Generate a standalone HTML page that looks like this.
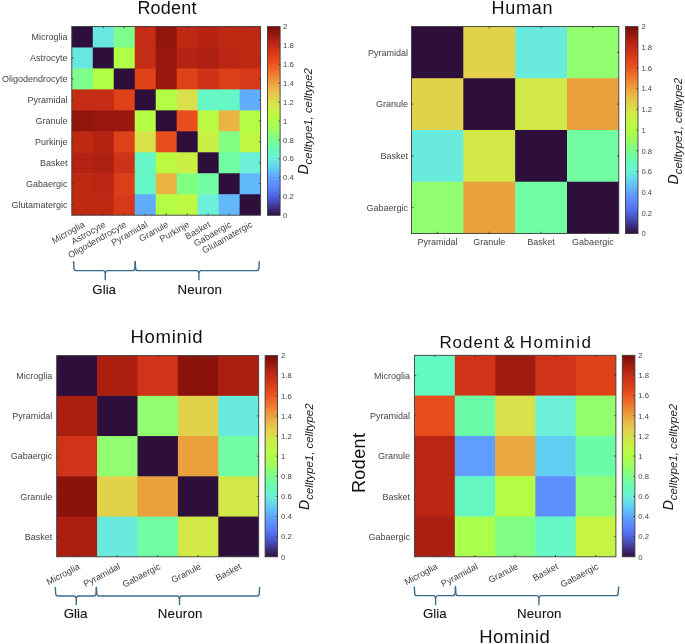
<!DOCTYPE html><html><head><meta charset="utf-8"><style>html,body{margin:0;padding:0;background:#fff;}svg{display:block;will-change:transform}</style></head><body><svg width="685" height="644" viewBox="0 0 685 644" font-family='"Liberation Sans", sans-serif'>
<rect width="685" height="644" fill="#ffffff"/>
<rect x="71.80" y="26.50" width="21.58" height="21.57" fill="#2e0f3b"/>
<rect x="92.78" y="26.50" width="21.58" height="21.57" fill="#68e6e1"/>
<rect x="113.76" y="26.50" width="21.58" height="21.57" fill="#7efe8c"/>
<rect x="134.73" y="26.50" width="21.58" height="21.57" fill="#c42c16"/>
<rect x="155.71" y="26.50" width="21.58" height="21.57" fill="#92150d"/>
<rect x="176.69" y="26.50" width="21.58" height="21.57" fill="#bf2914"/>
<rect x="197.67" y="26.50" width="21.58" height="21.57" fill="#b42312"/>
<rect x="218.64" y="26.50" width="21.58" height="21.57" fill="#bf2914"/>
<rect x="239.62" y="26.50" width="20.98" height="21.57" fill="#bf2914"/>
<rect x="71.80" y="47.47" width="21.58" height="21.57" fill="#68e6e1"/>
<rect x="92.78" y="47.47" width="21.58" height="21.57" fill="#2e0f3b"/>
<rect x="113.76" y="47.47" width="21.58" height="21.57" fill="#b0fe46"/>
<rect x="134.73" y="47.47" width="21.58" height="21.57" fill="#c42c16"/>
<rect x="155.71" y="47.47" width="21.58" height="21.57" fill="#99170e"/>
<rect x="176.69" y="47.47" width="21.58" height="21.57" fill="#b42312"/>
<rect x="197.67" y="47.47" width="21.58" height="21.57" fill="#ae2011"/>
<rect x="218.64" y="47.47" width="21.58" height="21.57" fill="#ba2613"/>
<rect x="239.62" y="47.47" width="20.98" height="21.57" fill="#bf2914"/>
<rect x="71.80" y="68.43" width="21.58" height="21.57" fill="#7efe8c"/>
<rect x="92.78" y="68.43" width="21.58" height="21.57" fill="#b0fe46"/>
<rect x="113.76" y="68.43" width="21.58" height="21.57" fill="#2e0f3b"/>
<rect x="134.73" y="68.43" width="21.58" height="21.57" fill="#df4119"/>
<rect x="155.71" y="68.43" width="21.58" height="21.57" fill="#99170e"/>
<rect x="176.69" y="68.43" width="21.58" height="21.57" fill="#df4119"/>
<rect x="197.67" y="68.43" width="21.58" height="21.57" fill="#ce3217"/>
<rect x="218.64" y="68.43" width="21.58" height="21.57" fill="#dc3e19"/>
<rect x="239.62" y="68.43" width="20.98" height="21.57" fill="#d73918"/>
<rect x="71.80" y="89.40" width="21.58" height="21.57" fill="#c42c16"/>
<rect x="92.78" y="89.40" width="21.58" height="21.57" fill="#c42c16"/>
<rect x="113.76" y="89.40" width="21.58" height="21.57" fill="#df4119"/>
<rect x="134.73" y="89.40" width="21.58" height="21.57" fill="#2e0f3b"/>
<rect x="155.71" y="89.40" width="21.58" height="21.57" fill="#b3fd44"/>
<rect x="176.69" y="89.40" width="21.58" height="21.57" fill="#d8e04a"/>
<rect x="197.67" y="89.40" width="21.58" height="21.57" fill="#65f7c5"/>
<rect x="218.64" y="89.40" width="21.58" height="21.57" fill="#65f7c5"/>
<rect x="239.62" y="89.40" width="20.98" height="21.57" fill="#60adfe"/>
<rect x="71.80" y="110.37" width="21.58" height="21.57" fill="#92150d"/>
<rect x="92.78" y="110.37" width="21.58" height="21.57" fill="#99170e"/>
<rect x="113.76" y="110.37" width="21.58" height="21.57" fill="#99170e"/>
<rect x="134.73" y="110.37" width="21.58" height="21.57" fill="#b3fd44"/>
<rect x="155.71" y="110.37" width="21.58" height="21.57" fill="#2e0f3b"/>
<rect x="176.69" y="110.37" width="21.58" height="21.57" fill="#e94f1d"/>
<rect x="197.67" y="110.37" width="21.58" height="21.57" fill="#bbfa42"/>
<rect x="218.64" y="110.37" width="21.58" height="21.57" fill="#eab444"/>
<rect x="239.62" y="110.37" width="20.98" height="21.57" fill="#b3fd44"/>
<rect x="71.80" y="131.33" width="21.58" height="21.57" fill="#bf2914"/>
<rect x="92.78" y="131.33" width="21.58" height="21.57" fill="#b42312"/>
<rect x="113.76" y="131.33" width="21.58" height="21.57" fill="#df4119"/>
<rect x="134.73" y="131.33" width="21.58" height="21.57" fill="#d8e04a"/>
<rect x="155.71" y="131.33" width="21.58" height="21.57" fill="#e94f1d"/>
<rect x="176.69" y="131.33" width="21.58" height="21.57" fill="#2e0f3b"/>
<rect x="197.67" y="131.33" width="21.58" height="21.57" fill="#caf043"/>
<rect x="218.64" y="131.33" width="21.58" height="21.57" fill="#81ff85"/>
<rect x="239.62" y="131.33" width="20.98" height="21.57" fill="#bef842"/>
<rect x="71.80" y="152.30" width="21.58" height="21.57" fill="#b42312"/>
<rect x="92.78" y="152.30" width="21.58" height="21.57" fill="#ae2011"/>
<rect x="113.76" y="152.30" width="21.58" height="21.57" fill="#ce3217"/>
<rect x="134.73" y="152.30" width="21.58" height="21.57" fill="#65f7c5"/>
<rect x="155.71" y="152.30" width="21.58" height="21.57" fill="#bbfa42"/>
<rect x="176.69" y="152.30" width="21.58" height="21.57" fill="#caf043"/>
<rect x="197.67" y="152.30" width="21.58" height="21.57" fill="#2e0f3b"/>
<rect x="218.64" y="152.30" width="21.58" height="21.57" fill="#71fda1"/>
<rect x="239.62" y="152.30" width="20.98" height="21.57" fill="#6cf0d8"/>
<rect x="71.80" y="173.27" width="21.58" height="21.57" fill="#bf2914"/>
<rect x="92.78" y="173.27" width="21.58" height="21.57" fill="#ba2613"/>
<rect x="113.76" y="173.27" width="21.58" height="21.57" fill="#dc3e19"/>
<rect x="134.73" y="173.27" width="21.58" height="21.57" fill="#65f7c5"/>
<rect x="155.71" y="173.27" width="21.58" height="21.57" fill="#eab444"/>
<rect x="176.69" y="173.27" width="21.58" height="21.57" fill="#81ff85"/>
<rect x="197.67" y="173.27" width="21.58" height="21.57" fill="#71fda1"/>
<rect x="218.64" y="173.27" width="21.58" height="21.57" fill="#2e0f3b"/>
<rect x="239.62" y="173.27" width="20.98" height="21.57" fill="#61b9fb"/>
<rect x="71.80" y="194.23" width="21.58" height="20.97" fill="#bf2914"/>
<rect x="92.78" y="194.23" width="21.58" height="20.97" fill="#bf2914"/>
<rect x="113.76" y="194.23" width="21.58" height="20.97" fill="#d73918"/>
<rect x="134.73" y="194.23" width="21.58" height="20.97" fill="#60adfe"/>
<rect x="155.71" y="194.23" width="21.58" height="20.97" fill="#b3fd44"/>
<rect x="176.69" y="194.23" width="21.58" height="20.97" fill="#bef842"/>
<rect x="197.67" y="194.23" width="21.58" height="20.97" fill="#6cf0d8"/>
<rect x="218.64" y="194.23" width="21.58" height="20.97" fill="#61b9fb"/>
<rect x="239.62" y="194.23" width="20.98" height="20.97" fill="#2e0f3b"/>
<rect x="71.80" y="26.50" width="188.80" height="188.70" fill="none" stroke="#3c3c3c" stroke-width="0.9"/>
<line x1="82.29" y1="26.50" x2="82.29" y2="28.30" stroke="#333" stroke-width="0.8"/>
<line x1="82.29" y1="215.20" x2="82.29" y2="213.40" stroke="#333" stroke-width="0.8"/>
<line x1="71.80" y1="36.98" x2="73.60" y2="36.98" stroke="#333" stroke-width="0.8"/>
<line x1="260.60" y1="36.98" x2="258.80" y2="36.98" stroke="#333" stroke-width="0.8"/>
<line x1="103.27" y1="26.50" x2="103.27" y2="28.30" stroke="#333" stroke-width="0.8"/>
<line x1="103.27" y1="215.20" x2="103.27" y2="213.40" stroke="#333" stroke-width="0.8"/>
<line x1="71.80" y1="57.95" x2="73.60" y2="57.95" stroke="#333" stroke-width="0.8"/>
<line x1="260.60" y1="57.95" x2="258.80" y2="57.95" stroke="#333" stroke-width="0.8"/>
<line x1="124.24" y1="26.50" x2="124.24" y2="28.30" stroke="#333" stroke-width="0.8"/>
<line x1="124.24" y1="215.20" x2="124.24" y2="213.40" stroke="#333" stroke-width="0.8"/>
<line x1="71.80" y1="78.92" x2="73.60" y2="78.92" stroke="#333" stroke-width="0.8"/>
<line x1="260.60" y1="78.92" x2="258.80" y2="78.92" stroke="#333" stroke-width="0.8"/>
<line x1="145.22" y1="26.50" x2="145.22" y2="28.30" stroke="#333" stroke-width="0.8"/>
<line x1="145.22" y1="215.20" x2="145.22" y2="213.40" stroke="#333" stroke-width="0.8"/>
<line x1="71.80" y1="99.88" x2="73.60" y2="99.88" stroke="#333" stroke-width="0.8"/>
<line x1="260.60" y1="99.88" x2="258.80" y2="99.88" stroke="#333" stroke-width="0.8"/>
<line x1="166.20" y1="26.50" x2="166.20" y2="28.30" stroke="#333" stroke-width="0.8"/>
<line x1="166.20" y1="215.20" x2="166.20" y2="213.40" stroke="#333" stroke-width="0.8"/>
<line x1="71.80" y1="120.85" x2="73.60" y2="120.85" stroke="#333" stroke-width="0.8"/>
<line x1="260.60" y1="120.85" x2="258.80" y2="120.85" stroke="#333" stroke-width="0.8"/>
<line x1="187.18" y1="26.50" x2="187.18" y2="28.30" stroke="#333" stroke-width="0.8"/>
<line x1="187.18" y1="215.20" x2="187.18" y2="213.40" stroke="#333" stroke-width="0.8"/>
<line x1="71.80" y1="141.82" x2="73.60" y2="141.82" stroke="#333" stroke-width="0.8"/>
<line x1="260.60" y1="141.82" x2="258.80" y2="141.82" stroke="#333" stroke-width="0.8"/>
<line x1="208.16" y1="26.50" x2="208.16" y2="28.30" stroke="#333" stroke-width="0.8"/>
<line x1="208.16" y1="215.20" x2="208.16" y2="213.40" stroke="#333" stroke-width="0.8"/>
<line x1="71.80" y1="162.78" x2="73.60" y2="162.78" stroke="#333" stroke-width="0.8"/>
<line x1="260.60" y1="162.78" x2="258.80" y2="162.78" stroke="#333" stroke-width="0.8"/>
<line x1="229.13" y1="26.50" x2="229.13" y2="28.30" stroke="#333" stroke-width="0.8"/>
<line x1="229.13" y1="215.20" x2="229.13" y2="213.40" stroke="#333" stroke-width="0.8"/>
<line x1="71.80" y1="183.75" x2="73.60" y2="183.75" stroke="#333" stroke-width="0.8"/>
<line x1="260.60" y1="183.75" x2="258.80" y2="183.75" stroke="#333" stroke-width="0.8"/>
<line x1="250.11" y1="26.50" x2="250.11" y2="28.30" stroke="#333" stroke-width="0.8"/>
<line x1="250.11" y1="215.20" x2="250.11" y2="213.40" stroke="#333" stroke-width="0.8"/>
<line x1="71.80" y1="204.72" x2="73.60" y2="204.72" stroke="#333" stroke-width="0.8"/>
<line x1="260.60" y1="204.72" x2="258.80" y2="204.72" stroke="#333" stroke-width="0.8"/>
<defs><linearGradient id="g" x1="0" y1="0" x2="0" y2="1"><stop offset="0.000" stop-color="#7a0a08"/><stop offset="0.025" stop-color="#8b130c"/><stop offset="0.050" stop-color="#9f1a0f"/><stop offset="0.075" stop-color="#b42312"/><stop offset="0.100" stop-color="#c42c16"/><stop offset="0.125" stop-color="#d03317"/><stop offset="0.150" stop-color="#dc3e19"/><stop offset="0.175" stop-color="#e4471b"/><stop offset="0.200" stop-color="#ec5620"/><stop offset="0.225" stop-color="#ee6726"/><stop offset="0.250" stop-color="#ef792d"/><stop offset="0.275" stop-color="#ee8f36"/><stop offset="0.300" stop-color="#eaa03c"/><stop offset="0.325" stop-color="#eab444"/><stop offset="0.350" stop-color="#e7c249"/><stop offset="0.375" stop-color="#e2d14b"/><stop offset="0.400" stop-color="#d8e04a"/><stop offset="0.425" stop-color="#d0ea46"/><stop offset="0.450" stop-color="#c5f442"/><stop offset="0.475" stop-color="#bbfa42"/><stop offset="0.500" stop-color="#b0fe46"/><stop offset="0.525" stop-color="#a6ff53"/><stop offset="0.550" stop-color="#9bff63"/><stop offset="0.575" stop-color="#8aff78"/><stop offset="0.600" stop-color="#7efe8c"/><stop offset="0.625" stop-color="#71fda1"/><stop offset="0.650" stop-color="#66fab6"/><stop offset="0.675" stop-color="#65f7c5"/><stop offset="0.700" stop-color="#6cf0d8"/><stop offset="0.725" stop-color="#65e0e5"/><stop offset="0.750" stop-color="#62cef1"/><stop offset="0.775" stop-color="#61b9fb"/><stop offset="0.800" stop-color="#5ea6fe"/><stop offset="0.825" stop-color="#5f94ff"/><stop offset="0.850" stop-color="#5b85fc"/><stop offset="0.875" stop-color="#5575f1"/><stop offset="0.900" stop-color="#4e62de"/><stop offset="0.925" stop-color="#484fbf"/><stop offset="0.950" stop-color="#403895"/><stop offset="0.975" stop-color="#38246a"/><stop offset="1.000" stop-color="#2e0f3b"/></linearGradient></defs>
<rect x="267.50" y="26.60" width="12.60" height="188.70" fill="url(#g)" stroke="#3c3c3c" stroke-width="0.9"/>
<text x="283.00" y="218.07" font-size="7.7" fill="#444444">0</text>
<line x1="280.10" y1="196.43" x2="278.50" y2="196.43" stroke="#333" stroke-width="0.8"/>
<text x="283.00" y="199.20" font-size="7.7" fill="#444444">0.2</text>
<line x1="280.10" y1="177.56" x2="278.50" y2="177.56" stroke="#333" stroke-width="0.8"/>
<text x="283.00" y="180.33" font-size="7.7" fill="#444444">0.4</text>
<line x1="280.10" y1="158.69" x2="278.50" y2="158.69" stroke="#333" stroke-width="0.8"/>
<text x="283.00" y="161.46" font-size="7.7" fill="#444444">0.6</text>
<line x1="280.10" y1="139.82" x2="278.50" y2="139.82" stroke="#333" stroke-width="0.8"/>
<text x="283.00" y="142.59" font-size="7.7" fill="#444444">0.8</text>
<line x1="280.10" y1="120.95" x2="278.50" y2="120.95" stroke="#333" stroke-width="0.8"/>
<text x="283.00" y="123.72" font-size="7.7" fill="#444444">1</text>
<line x1="280.10" y1="102.08" x2="278.50" y2="102.08" stroke="#333" stroke-width="0.8"/>
<text x="283.00" y="104.85" font-size="7.7" fill="#444444">1.2</text>
<line x1="280.10" y1="83.21" x2="278.50" y2="83.21" stroke="#333" stroke-width="0.8"/>
<text x="283.00" y="85.98" font-size="7.7" fill="#444444">1.4</text>
<line x1="280.10" y1="64.34" x2="278.50" y2="64.34" stroke="#333" stroke-width="0.8"/>
<text x="283.00" y="67.11" font-size="7.7" fill="#444444">1.6</text>
<line x1="280.10" y1="45.47" x2="278.50" y2="45.47" stroke="#333" stroke-width="0.8"/>
<text x="283.00" y="48.24" font-size="7.7" fill="#444444">1.8</text>
<text x="283.00" y="29.37" font-size="7.7" fill="#444444">2</text>
<text x="308.20" y="121.30" transform="rotate(-90 308.20 121.30)" text-anchor="middle" font-style="italic" fill="#1a1a1a"><tspan font-size="14">D</tspan><tspan font-size="11.4" dy="4">celltype1, celltype2</tspan></text>
<text x="167.00" y="14.20" font-size="18" text-anchor="middle" fill="#111" letter-spacing="0.2">Rodent</text>
<text x="67.60" y="40.14" font-size="9" text-anchor="end" fill="#444444" >Microglia</text>
<text x="67.60" y="61.12" font-size="9" text-anchor="end" fill="#444444" >Astrocyte</text>
<text x="67.60" y="82.09" font-size="9" text-anchor="end" fill="#444444" >Oligodendrocyte</text>
<text x="67.60" y="103.07" font-size="9" text-anchor="end" fill="#444444" >Pyramidal</text>
<text x="67.60" y="124.05" font-size="9" text-anchor="end" fill="#444444" >Granule</text>
<text x="67.60" y="145.03" font-size="9" text-anchor="end" fill="#444444" >Purkinje</text>
<text x="67.60" y="166.01" font-size="9" text-anchor="end" fill="#444444" >Basket</text>
<text x="67.60" y="186.98" font-size="9" text-anchor="end" fill="#444444" >Gabaergic</text>
<text x="67.60" y="207.96" font-size="9" text-anchor="end" fill="#444444" >Glutamatergic</text>
<text x="85.29" y="226.20" font-size="9" text-anchor="end" fill="#444444" transform="rotate(-29.5 85.29 226.20)">Microglia</text>
<text x="106.27" y="226.20" font-size="9" text-anchor="end" fill="#444444" transform="rotate(-29.5 106.27 226.20)">Astrocyte</text>
<text x="127.24" y="226.20" font-size="9" text-anchor="end" fill="#444444" transform="rotate(-29.5 127.24 226.20)">Oligodendrocyte</text>
<text x="148.22" y="226.20" font-size="9" text-anchor="end" fill="#444444" transform="rotate(-29.5 148.22 226.20)">Pyramidal</text>
<text x="169.20" y="226.20" font-size="9" text-anchor="end" fill="#444444" transform="rotate(-29.5 169.20 226.20)">Granule</text>
<text x="190.18" y="226.20" font-size="9" text-anchor="end" fill="#444444" transform="rotate(-29.5 190.18 226.20)">Purkinje</text>
<text x="211.16" y="226.20" font-size="9" text-anchor="end" fill="#444444" transform="rotate(-29.5 211.16 226.20)">Basket</text>
<text x="232.13" y="226.20" font-size="9" text-anchor="end" fill="#444444" transform="rotate(-29.5 232.13 226.20)">Gabaergic</text>
<text x="253.11" y="226.20" font-size="9" text-anchor="end" fill="#444444" transform="rotate(-29.5 253.11 226.20)">Glutamatergic</text>
<path d="M73.60,261.60 L74.00,268.40 Q74.20,270.60 76.40,270.60 L103.10,270.60 Q105.00,270.60 105.30,273.60 L105.30,279.70 M105.30,273.60 Q105.60,270.60 107.50,270.60 L132.40,270.60 Q134.60,270.60 134.80,268.40 L135.20,261.60" fill="none" stroke="#3a6b8c" stroke-width="1.4" stroke-linecap="round" stroke-linejoin="round"/>
<path d="M135.20,261.60 L135.60,268.40 Q135.80,270.60 138.00,270.60 L196.70,270.60 Q198.60,270.60 198.90,273.60 L198.90,279.70 M198.90,273.60 Q199.20,270.60 201.10,270.60 L256.50,270.60 Q258.70,270.60 258.90,268.40 L259.30,261.60" fill="none" stroke="#3a6b8c" stroke-width="1.4" stroke-linecap="round" stroke-linejoin="round"/>
<text x="104.20" y="293.60" font-size="13.3" text-anchor="middle" fill="#111" stroke="#111" stroke-width="0.1">Glia</text>
<text x="199.80" y="293.80" font-size="13.3" text-anchor="middle" fill="#111" letter-spacing="0.2" stroke="#111" stroke-width="0.1">Neuron</text>
<rect x="411.50" y="26.50" width="52.43" height="52.35" fill="#2e0f3b"/>
<rect x="463.32" y="26.50" width="52.43" height="52.35" fill="#e2d14b"/>
<rect x="515.15" y="26.50" width="52.43" height="52.35" fill="#68eadc"/>
<rect x="566.98" y="26.50" width="51.83" height="52.35" fill="#91ff6f"/>
<rect x="411.50" y="78.25" width="52.43" height="52.35" fill="#e2d14b"/>
<rect x="463.32" y="78.25" width="52.43" height="52.35" fill="#2e0f3b"/>
<rect x="515.15" y="78.25" width="52.43" height="52.35" fill="#d2e846"/>
<rect x="566.98" y="78.25" width="51.83" height="52.35" fill="#eaa03c"/>
<rect x="411.50" y="130.00" width="52.43" height="52.35" fill="#68eadc"/>
<rect x="463.32" y="130.00" width="52.43" height="52.35" fill="#d2e846"/>
<rect x="515.15" y="130.00" width="52.43" height="52.35" fill="#2e0f3b"/>
<rect x="566.98" y="130.00" width="51.83" height="52.35" fill="#71fda1"/>
<rect x="411.50" y="181.75" width="52.43" height="51.75" fill="#91ff6f"/>
<rect x="463.32" y="181.75" width="52.43" height="51.75" fill="#eaa03c"/>
<rect x="515.15" y="181.75" width="52.43" height="51.75" fill="#71fda1"/>
<rect x="566.98" y="181.75" width="51.83" height="51.75" fill="#2e0f3b"/>
<rect x="411.50" y="26.50" width="207.30" height="207.00" fill="none" stroke="#3c3c3c" stroke-width="0.9"/>
<line x1="437.41" y1="26.50" x2="437.41" y2="28.30" stroke="#333" stroke-width="0.8"/>
<line x1="437.41" y1="233.50" x2="437.41" y2="231.70" stroke="#333" stroke-width="0.8"/>
<line x1="411.50" y1="52.38" x2="413.30" y2="52.38" stroke="#333" stroke-width="0.8"/>
<line x1="618.80" y1="52.38" x2="617.00" y2="52.38" stroke="#333" stroke-width="0.8"/>
<line x1="489.24" y1="26.50" x2="489.24" y2="28.30" stroke="#333" stroke-width="0.8"/>
<line x1="489.24" y1="233.50" x2="489.24" y2="231.70" stroke="#333" stroke-width="0.8"/>
<line x1="411.50" y1="104.12" x2="413.30" y2="104.12" stroke="#333" stroke-width="0.8"/>
<line x1="618.80" y1="104.12" x2="617.00" y2="104.12" stroke="#333" stroke-width="0.8"/>
<line x1="541.06" y1="26.50" x2="541.06" y2="28.30" stroke="#333" stroke-width="0.8"/>
<line x1="541.06" y1="233.50" x2="541.06" y2="231.70" stroke="#333" stroke-width="0.8"/>
<line x1="411.50" y1="155.88" x2="413.30" y2="155.88" stroke="#333" stroke-width="0.8"/>
<line x1="618.80" y1="155.88" x2="617.00" y2="155.88" stroke="#333" stroke-width="0.8"/>
<line x1="592.89" y1="26.50" x2="592.89" y2="28.30" stroke="#333" stroke-width="0.8"/>
<line x1="592.89" y1="233.50" x2="592.89" y2="231.70" stroke="#333" stroke-width="0.8"/>
<line x1="411.50" y1="207.62" x2="413.30" y2="207.62" stroke="#333" stroke-width="0.8"/>
<line x1="618.80" y1="207.62" x2="617.00" y2="207.62" stroke="#333" stroke-width="0.8"/>
<rect x="625.50" y="26.60" width="12.50" height="206.90" fill="url(#g)" stroke="#3c3c3c" stroke-width="0.9"/>
<text x="641.40" y="236.27" font-size="7.7" fill="#444444">0</text>
<line x1="638.00" y1="212.81" x2="636.40" y2="212.81" stroke="#333" stroke-width="0.8"/>
<text x="641.40" y="215.58" font-size="7.7" fill="#444444">0.2</text>
<line x1="638.00" y1="192.12" x2="636.40" y2="192.12" stroke="#333" stroke-width="0.8"/>
<text x="641.40" y="194.89" font-size="7.7" fill="#444444">0.4</text>
<line x1="638.00" y1="171.43" x2="636.40" y2="171.43" stroke="#333" stroke-width="0.8"/>
<text x="641.40" y="174.20" font-size="7.7" fill="#444444">0.6</text>
<line x1="638.00" y1="150.74" x2="636.40" y2="150.74" stroke="#333" stroke-width="0.8"/>
<text x="641.40" y="153.51" font-size="7.7" fill="#444444">0.8</text>
<line x1="638.00" y1="130.05" x2="636.40" y2="130.05" stroke="#333" stroke-width="0.8"/>
<text x="641.40" y="132.82" font-size="7.7" fill="#444444">1</text>
<line x1="638.00" y1="109.36" x2="636.40" y2="109.36" stroke="#333" stroke-width="0.8"/>
<text x="641.40" y="112.13" font-size="7.7" fill="#444444">1.2</text>
<line x1="638.00" y1="88.67" x2="636.40" y2="88.67" stroke="#333" stroke-width="0.8"/>
<text x="641.40" y="91.44" font-size="7.7" fill="#444444">1.4</text>
<line x1="638.00" y1="67.98" x2="636.40" y2="67.98" stroke="#333" stroke-width="0.8"/>
<text x="641.40" y="70.75" font-size="7.7" fill="#444444">1.6</text>
<line x1="638.00" y1="47.29" x2="636.40" y2="47.29" stroke="#333" stroke-width="0.8"/>
<text x="641.40" y="50.06" font-size="7.7" fill="#444444">1.8</text>
<text x="641.40" y="29.37" font-size="7.7" fill="#444444">2</text>
<text x="678.00" y="131.20" transform="rotate(-90 678.00 131.20)" text-anchor="middle" font-style="italic" fill="#1a1a1a"><tspan font-size="14">D</tspan><tspan font-size="11.4" dy="4">celltype1, celltype2</tspan></text>
<text x="522.30" y="13.90" font-size="18" text-anchor="middle" fill="#111" letter-spacing="0.75">Human</text>
<text x="408.00" y="55.56" font-size="9" text-anchor="end" fill="#444444" >Pyramidal</text>
<text x="408.00" y="107.39" font-size="9" text-anchor="end" fill="#444444" >Granule</text>
<text x="408.00" y="159.21" font-size="9" text-anchor="end" fill="#444444" >Basket</text>
<text x="408.00" y="211.04" font-size="9" text-anchor="end" fill="#444444" >Gabaergic</text>
<text x="437.41" y="244.90" font-size="9" text-anchor="middle" fill="#444444" >Pyramidal</text>
<text x="489.24" y="244.90" font-size="9" text-anchor="middle" fill="#444444" >Granule</text>
<text x="541.06" y="244.90" font-size="9" text-anchor="middle" fill="#444444" >Basket</text>
<text x="592.89" y="244.90" font-size="9" text-anchor="middle" fill="#444444" >Gabaergic</text>
<rect x="56.70" y="355.60" width="41.00" height="40.84" fill="#2e0f3b"/>
<rect x="97.10" y="355.60" width="41.00" height="40.84" fill="#ab1f11"/>
<rect x="137.50" y="355.60" width="41.00" height="40.84" fill="#d03317"/>
<rect x="177.90" y="355.60" width="41.00" height="40.84" fill="#8b130c"/>
<rect x="218.30" y="355.60" width="40.40" height="40.84" fill="#ab1f11"/>
<rect x="56.70" y="395.84" width="41.00" height="40.84" fill="#ab1f11"/>
<rect x="97.10" y="395.84" width="41.00" height="40.84" fill="#2e0f3b"/>
<rect x="137.50" y="395.84" width="41.00" height="40.84" fill="#91ff6f"/>
<rect x="177.90" y="395.84" width="41.00" height="40.84" fill="#e2d14b"/>
<rect x="218.30" y="395.84" width="40.40" height="40.84" fill="#68eadc"/>
<rect x="56.70" y="436.08" width="41.00" height="40.84" fill="#d03317"/>
<rect x="97.10" y="436.08" width="41.00" height="40.84" fill="#91ff6f"/>
<rect x="137.50" y="436.08" width="41.00" height="40.84" fill="#2e0f3b"/>
<rect x="177.90" y="436.08" width="41.00" height="40.84" fill="#eaa03c"/>
<rect x="218.30" y="436.08" width="40.40" height="40.84" fill="#71fda1"/>
<rect x="56.70" y="476.32" width="41.00" height="40.84" fill="#8b130c"/>
<rect x="97.10" y="476.32" width="41.00" height="40.84" fill="#e2d14b"/>
<rect x="137.50" y="476.32" width="41.00" height="40.84" fill="#eaa03c"/>
<rect x="177.90" y="476.32" width="41.00" height="40.84" fill="#2e0f3b"/>
<rect x="218.30" y="476.32" width="40.40" height="40.84" fill="#d2e846"/>
<rect x="56.70" y="516.56" width="41.00" height="40.24" fill="#ab1f11"/>
<rect x="97.10" y="516.56" width="41.00" height="40.24" fill="#68eadc"/>
<rect x="137.50" y="516.56" width="41.00" height="40.24" fill="#71fda1"/>
<rect x="177.90" y="516.56" width="41.00" height="40.24" fill="#d2e846"/>
<rect x="218.30" y="516.56" width="40.40" height="40.24" fill="#2e0f3b"/>
<rect x="56.70" y="355.60" width="202.00" height="201.20" fill="none" stroke="#3c3c3c" stroke-width="0.9"/>
<line x1="76.90" y1="355.60" x2="76.90" y2="357.40" stroke="#333" stroke-width="0.8"/>
<line x1="76.90" y1="556.80" x2="76.90" y2="555.00" stroke="#333" stroke-width="0.8"/>
<line x1="56.70" y1="375.72" x2="58.50" y2="375.72" stroke="#333" stroke-width="0.8"/>
<line x1="258.70" y1="375.72" x2="256.90" y2="375.72" stroke="#333" stroke-width="0.8"/>
<line x1="117.30" y1="355.60" x2="117.30" y2="357.40" stroke="#333" stroke-width="0.8"/>
<line x1="117.30" y1="556.80" x2="117.30" y2="555.00" stroke="#333" stroke-width="0.8"/>
<line x1="56.70" y1="415.96" x2="58.50" y2="415.96" stroke="#333" stroke-width="0.8"/>
<line x1="258.70" y1="415.96" x2="256.90" y2="415.96" stroke="#333" stroke-width="0.8"/>
<line x1="157.70" y1="355.60" x2="157.70" y2="357.40" stroke="#333" stroke-width="0.8"/>
<line x1="157.70" y1="556.80" x2="157.70" y2="555.00" stroke="#333" stroke-width="0.8"/>
<line x1="56.70" y1="456.20" x2="58.50" y2="456.20" stroke="#333" stroke-width="0.8"/>
<line x1="258.70" y1="456.20" x2="256.90" y2="456.20" stroke="#333" stroke-width="0.8"/>
<line x1="198.10" y1="355.60" x2="198.10" y2="357.40" stroke="#333" stroke-width="0.8"/>
<line x1="198.10" y1="556.80" x2="198.10" y2="555.00" stroke="#333" stroke-width="0.8"/>
<line x1="56.70" y1="496.44" x2="58.50" y2="496.44" stroke="#333" stroke-width="0.8"/>
<line x1="258.70" y1="496.44" x2="256.90" y2="496.44" stroke="#333" stroke-width="0.8"/>
<line x1="238.50" y1="355.60" x2="238.50" y2="357.40" stroke="#333" stroke-width="0.8"/>
<line x1="238.50" y1="556.80" x2="238.50" y2="555.00" stroke="#333" stroke-width="0.8"/>
<line x1="56.70" y1="536.68" x2="58.50" y2="536.68" stroke="#333" stroke-width="0.8"/>
<line x1="258.70" y1="536.68" x2="256.90" y2="536.68" stroke="#333" stroke-width="0.8"/>
<rect x="265.10" y="355.60" width="12.40" height="201.20" fill="url(#g)" stroke="#3c3c3c" stroke-width="0.9"/>
<text x="281.00" y="559.57" font-size="7.7" fill="#444444">0</text>
<line x1="277.50" y1="536.68" x2="275.90" y2="536.68" stroke="#333" stroke-width="0.8"/>
<text x="281.00" y="539.45" font-size="7.7" fill="#444444">0.2</text>
<line x1="277.50" y1="516.56" x2="275.90" y2="516.56" stroke="#333" stroke-width="0.8"/>
<text x="281.00" y="519.33" font-size="7.7" fill="#444444">0.4</text>
<line x1="277.50" y1="496.44" x2="275.90" y2="496.44" stroke="#333" stroke-width="0.8"/>
<text x="281.00" y="499.21" font-size="7.7" fill="#444444">0.6</text>
<line x1="277.50" y1="476.32" x2="275.90" y2="476.32" stroke="#333" stroke-width="0.8"/>
<text x="281.00" y="479.09" font-size="7.7" fill="#444444">0.8</text>
<line x1="277.50" y1="456.20" x2="275.90" y2="456.20" stroke="#333" stroke-width="0.8"/>
<text x="281.00" y="458.97" font-size="7.7" fill="#444444">1</text>
<line x1="277.50" y1="436.08" x2="275.90" y2="436.08" stroke="#333" stroke-width="0.8"/>
<text x="281.00" y="438.85" font-size="7.7" fill="#444444">1.2</text>
<line x1="277.50" y1="415.96" x2="275.90" y2="415.96" stroke="#333" stroke-width="0.8"/>
<text x="281.00" y="418.73" font-size="7.7" fill="#444444">1.4</text>
<line x1="277.50" y1="395.84" x2="275.90" y2="395.84" stroke="#333" stroke-width="0.8"/>
<text x="281.00" y="398.61" font-size="7.7" fill="#444444">1.6</text>
<line x1="277.50" y1="375.72" x2="275.90" y2="375.72" stroke="#333" stroke-width="0.8"/>
<text x="281.00" y="378.49" font-size="7.7" fill="#444444">1.8</text>
<text x="281.00" y="358.37" font-size="7.7" fill="#444444">2</text>
<text x="309.00" y="456.70" transform="rotate(-90 309.00 456.70)" text-anchor="middle" font-style="italic" fill="#1a1a1a"><tspan font-size="14">D</tspan><tspan font-size="11.4" dy="4">celltype1, celltype2</tspan></text>
<text x="166.90" y="342.80" font-size="18.5" text-anchor="middle" fill="#111" letter-spacing="0.7">Hominid</text>
<text x="52.20" y="378.87" font-size="9" text-anchor="end" fill="#444444" >Microglia</text>
<text x="52.20" y="419.11" font-size="9" text-anchor="end" fill="#444444" >Pyramidal</text>
<text x="52.20" y="459.35" font-size="9" text-anchor="end" fill="#444444" >Gabaergic</text>
<text x="52.20" y="499.59" font-size="9" text-anchor="end" fill="#444444" >Granule</text>
<text x="52.20" y="539.83" font-size="9" text-anchor="end" fill="#444444" >Basket</text>
<text x="80.40" y="568.30" font-size="9" text-anchor="end" fill="#444444" transform="rotate(-28 80.40 568.30)">Microglia</text>
<text x="120.80" y="568.30" font-size="9" text-anchor="end" fill="#444444" transform="rotate(-28 120.80 568.30)">Pyramidal</text>
<text x="161.20" y="568.30" font-size="9" text-anchor="end" fill="#444444" transform="rotate(-28 161.20 568.30)">Gabaergic</text>
<text x="201.60" y="568.30" font-size="9" text-anchor="end" fill="#444444" transform="rotate(-28 201.60 568.30)">Granule</text>
<text x="242.00" y="568.30" font-size="9" text-anchor="end" fill="#444444" transform="rotate(-28 242.00 568.30)">Basket</text>
<path d="M55.30,587.50 L55.70,593.80 Q55.90,596.00 58.10,596.00 L74.10,596.00 Q76.00,596.00 76.30,599.00 L76.30,604.60 M76.30,599.00 Q76.60,596.00 78.50,596.00 L93.60,596.00 Q95.80,596.00 96.00,593.80 L96.40,587.50" fill="none" stroke="#3a6b8c" stroke-width="1.4" stroke-linecap="round" stroke-linejoin="round"/>
<path d="M96.40,587.50 L96.80,593.80 Q97.00,596.00 99.20,596.00 L177.30,596.00 Q179.20,596.00 179.50,599.00 L179.50,604.60 M179.50,599.00 Q179.80,596.00 181.70,596.00 L256.80,596.00 Q259.00,596.00 259.20,593.80 L259.60,587.50" fill="none" stroke="#3a6b8c" stroke-width="1.4" stroke-linecap="round" stroke-linejoin="round"/>
<text x="75.50" y="618.00" font-size="13.3" text-anchor="middle" fill="#111" stroke="#111" stroke-width="0.1">Glia</text>
<text x="180.20" y="618.00" font-size="13.3" text-anchor="middle" fill="#111" letter-spacing="0.2" stroke="#111" stroke-width="0.1">Neuron</text>
<rect x="414.55" y="355.30" width="40.87" height="40.90" fill="#64f8c3"/>
<rect x="454.82" y="355.30" width="40.87" height="40.90" fill="#d03317"/>
<rect x="495.09" y="355.30" width="40.87" height="40.90" fill="#9f1a0f"/>
<rect x="535.36" y="355.30" width="40.87" height="40.90" fill="#d03317"/>
<rect x="575.63" y="355.30" width="40.27" height="40.90" fill="#df4119"/>
<rect x="414.55" y="395.60" width="40.87" height="40.90" fill="#e84d1d"/>
<rect x="454.82" y="395.60" width="40.87" height="40.90" fill="#6cfca7"/>
<rect x="495.09" y="395.60" width="40.87" height="40.90" fill="#d8e04a"/>
<rect x="535.36" y="395.60" width="40.87" height="40.90" fill="#6cf0d8"/>
<rect x="575.63" y="395.60" width="40.27" height="40.90" fill="#93ff6c"/>
<rect x="414.55" y="435.90" width="40.87" height="40.90" fill="#ba2613"/>
<rect x="454.82" y="435.90" width="40.87" height="40.90" fill="#5f9eff"/>
<rect x="495.09" y="435.90" width="40.87" height="40.90" fill="#eaa940"/>
<rect x="535.36" y="435.90" width="40.87" height="40.90" fill="#62cef1"/>
<rect x="575.63" y="435.90" width="40.27" height="40.90" fill="#6cfca7"/>
<rect x="414.55" y="476.20" width="40.87" height="40.90" fill="#ba2613"/>
<rect x="454.82" y="476.20" width="40.87" height="40.90" fill="#64f8c0"/>
<rect x="495.09" y="476.20" width="40.87" height="40.90" fill="#b5fc44"/>
<rect x="535.36" y="476.20" width="40.87" height="40.90" fill="#5e8fff"/>
<rect x="575.63" y="476.20" width="40.27" height="40.90" fill="#8aff78"/>
<rect x="414.55" y="516.50" width="40.87" height="40.30" fill="#ab1f11"/>
<rect x="454.82" y="516.50" width="40.87" height="40.30" fill="#abff4d"/>
<rect x="495.09" y="516.50" width="40.87" height="40.30" fill="#81ff85"/>
<rect x="535.36" y="516.50" width="40.87" height="40.30" fill="#65f7c5"/>
<rect x="575.63" y="516.50" width="40.27" height="40.30" fill="#c5f442"/>
<rect x="414.55" y="355.30" width="201.35" height="201.50" fill="none" stroke="#3c3c3c" stroke-width="0.9"/>
<line x1="434.69" y1="355.30" x2="434.69" y2="357.10" stroke="#333" stroke-width="0.8"/>
<line x1="434.69" y1="556.80" x2="434.69" y2="555.00" stroke="#333" stroke-width="0.8"/>
<line x1="414.55" y1="375.45" x2="416.35" y2="375.45" stroke="#333" stroke-width="0.8"/>
<line x1="615.90" y1="375.45" x2="614.10" y2="375.45" stroke="#333" stroke-width="0.8"/>
<line x1="474.95" y1="355.30" x2="474.95" y2="357.10" stroke="#333" stroke-width="0.8"/>
<line x1="474.95" y1="556.80" x2="474.95" y2="555.00" stroke="#333" stroke-width="0.8"/>
<line x1="414.55" y1="415.75" x2="416.35" y2="415.75" stroke="#333" stroke-width="0.8"/>
<line x1="615.90" y1="415.75" x2="614.10" y2="415.75" stroke="#333" stroke-width="0.8"/>
<line x1="515.23" y1="355.30" x2="515.23" y2="357.10" stroke="#333" stroke-width="0.8"/>
<line x1="515.23" y1="556.80" x2="515.23" y2="555.00" stroke="#333" stroke-width="0.8"/>
<line x1="414.55" y1="456.05" x2="416.35" y2="456.05" stroke="#333" stroke-width="0.8"/>
<line x1="615.90" y1="456.05" x2="614.10" y2="456.05" stroke="#333" stroke-width="0.8"/>
<line x1="555.50" y1="355.30" x2="555.50" y2="357.10" stroke="#333" stroke-width="0.8"/>
<line x1="555.50" y1="556.80" x2="555.50" y2="555.00" stroke="#333" stroke-width="0.8"/>
<line x1="414.55" y1="496.35" x2="416.35" y2="496.35" stroke="#333" stroke-width="0.8"/>
<line x1="615.90" y1="496.35" x2="614.10" y2="496.35" stroke="#333" stroke-width="0.8"/>
<line x1="595.76" y1="355.30" x2="595.76" y2="357.10" stroke="#333" stroke-width="0.8"/>
<line x1="595.76" y1="556.80" x2="595.76" y2="555.00" stroke="#333" stroke-width="0.8"/>
<line x1="414.55" y1="536.65" x2="416.35" y2="536.65" stroke="#333" stroke-width="0.8"/>
<line x1="615.90" y1="536.65" x2="614.10" y2="536.65" stroke="#333" stroke-width="0.8"/>
<rect x="622.30" y="355.30" width="12.60" height="201.50" fill="url(#g)" stroke="#3c3c3c" stroke-width="0.9"/>
<text x="638.30" y="559.57" font-size="7.7" fill="#444444">0</text>
<line x1="634.90" y1="536.65" x2="633.30" y2="536.65" stroke="#333" stroke-width="0.8"/>
<text x="638.30" y="539.42" font-size="7.7" fill="#444444">0.2</text>
<line x1="634.90" y1="516.50" x2="633.30" y2="516.50" stroke="#333" stroke-width="0.8"/>
<text x="638.30" y="519.27" font-size="7.7" fill="#444444">0.4</text>
<line x1="634.90" y1="496.35" x2="633.30" y2="496.35" stroke="#333" stroke-width="0.8"/>
<text x="638.30" y="499.12" font-size="7.7" fill="#444444">0.6</text>
<line x1="634.90" y1="476.20" x2="633.30" y2="476.20" stroke="#333" stroke-width="0.8"/>
<text x="638.30" y="478.97" font-size="7.7" fill="#444444">0.8</text>
<line x1="634.90" y1="456.05" x2="633.30" y2="456.05" stroke="#333" stroke-width="0.8"/>
<text x="638.30" y="458.82" font-size="7.7" fill="#444444">1</text>
<line x1="634.90" y1="435.90" x2="633.30" y2="435.90" stroke="#333" stroke-width="0.8"/>
<text x="638.30" y="438.67" font-size="7.7" fill="#444444">1.2</text>
<line x1="634.90" y1="415.75" x2="633.30" y2="415.75" stroke="#333" stroke-width="0.8"/>
<text x="638.30" y="418.52" font-size="7.7" fill="#444444">1.4</text>
<line x1="634.90" y1="395.60" x2="633.30" y2="395.60" stroke="#333" stroke-width="0.8"/>
<text x="638.30" y="398.37" font-size="7.7" fill="#444444">1.6</text>
<line x1="634.90" y1="375.45" x2="633.30" y2="375.45" stroke="#333" stroke-width="0.8"/>
<text x="638.30" y="378.22" font-size="7.7" fill="#444444">1.8</text>
<text x="638.30" y="358.07" font-size="7.7" fill="#444444">2</text>
<text x="673.30" y="457.10" transform="rotate(-90 673.30 457.10)" text-anchor="middle" font-style="italic" fill="#1a1a1a"><tspan font-size="14">D</tspan><tspan font-size="11.4" dy="4">celltype1, celltype2</tspan></text>
<text x="439.40" y="347.50" font-size="17" text-anchor="start" fill="#111" letter-spacing="0.95">Rodent</text>
<text x="503.40" y="347.50" font-size="17" text-anchor="start" fill="#111" >&amp;</text>
<text x="519.70" y="347.50" font-size="17" text-anchor="start" fill="#111" letter-spacing="1.5">Hominid</text>
<text x="410.00" y="378.60" font-size="9" text-anchor="end" fill="#444444" >Microglia</text>
<text x="410.00" y="418.90" font-size="9" text-anchor="end" fill="#444444" >Pyramidal</text>
<text x="410.00" y="459.20" font-size="9" text-anchor="end" fill="#444444" >Granule</text>
<text x="410.00" y="499.50" font-size="9" text-anchor="end" fill="#444444" >Basket</text>
<text x="410.00" y="539.80" font-size="9" text-anchor="end" fill="#444444" >Gabaergic</text>
<text x="438.19" y="568.30" font-size="9" text-anchor="end" fill="#444444" transform="rotate(-28 438.19 568.30)">Microglia</text>
<text x="478.45" y="568.30" font-size="9" text-anchor="end" fill="#444444" transform="rotate(-28 478.45 568.30)">Pyramidal</text>
<text x="518.73" y="568.30" font-size="9" text-anchor="end" fill="#444444" transform="rotate(-28 518.73 568.30)">Granule</text>
<text x="559.00" y="568.30" font-size="9" text-anchor="end" fill="#444444" transform="rotate(-28 559.00 568.30)">Basket</text>
<text x="599.26" y="568.30" font-size="9" text-anchor="end" fill="#444444" transform="rotate(-28 599.26 568.30)">Gabaergic</text>
<path d="M414.30,587.00 L414.70,593.40 Q414.90,595.60 417.10,595.60 L433.40,595.60 Q435.30,595.60 435.60,598.60 L435.60,604.60 M435.60,598.60 Q435.90,595.60 437.80,595.60 L452.70,595.60 Q454.90,595.60 455.10,593.40 L455.50,587.00" fill="none" stroke="#3a6b8c" stroke-width="1.4" stroke-linecap="round" stroke-linejoin="round"/>
<path d="M455.50,587.00 L455.90,593.40 Q456.10,595.60 458.30,595.60 L536.70,595.60 Q538.60,595.60 538.90,598.60 L538.90,604.60 M538.90,598.60 Q539.20,595.60 541.10,595.60 L615.80,595.60 Q618.00,595.60 618.20,593.40 L618.60,587.00" fill="none" stroke="#3a6b8c" stroke-width="1.4" stroke-linecap="round" stroke-linejoin="round"/>
<text x="434.80" y="617.60" font-size="13.3" text-anchor="middle" fill="#111" stroke="#111" stroke-width="0.1">Glia</text>
<text x="539.30" y="617.60" font-size="13.3" text-anchor="middle" fill="#111" letter-spacing="0.2" stroke="#111" stroke-width="0.1">Neuron</text>
<text x="514.80" y="642.90" font-size="18.5" text-anchor="middle" fill="#111" letter-spacing="0.45">Hominid</text>
<text x="364.8" y="462.8" font-size="18" letter-spacing="0.4" text-anchor="middle" fill="#111" transform="rotate(-90 364.8 462.8)">Rodent</text>
</svg></body></html>
